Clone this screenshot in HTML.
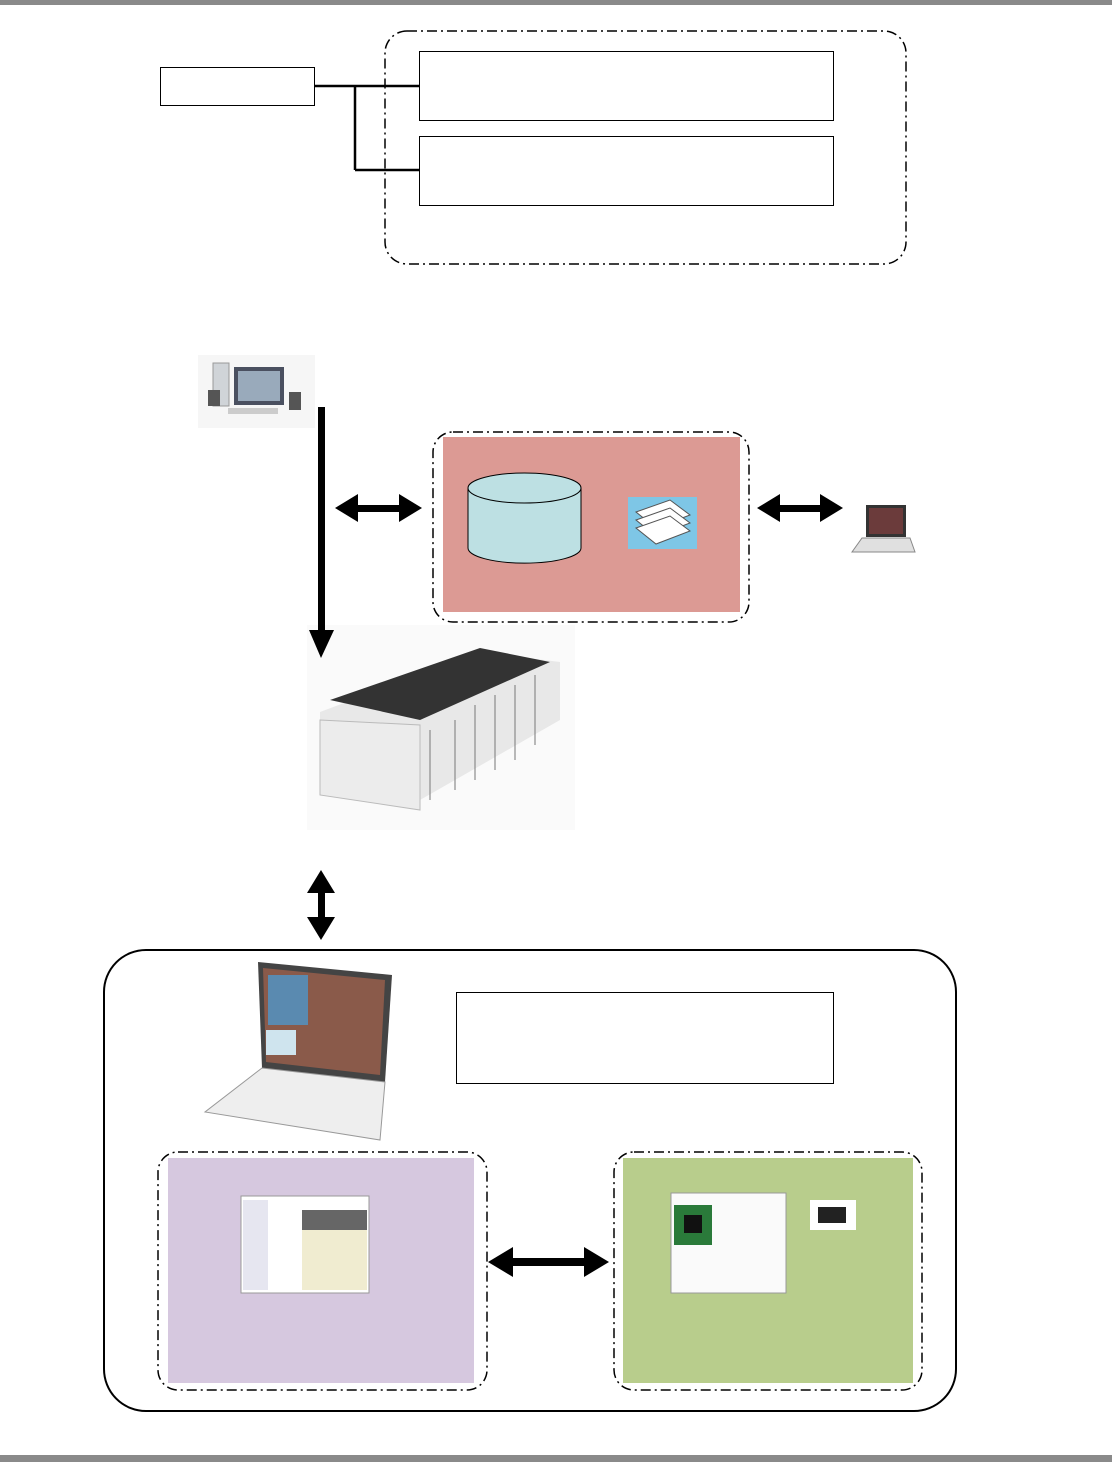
<!DOCTYPE html>
<html><head><meta charset="utf-8"><style>
html,body{margin:0;padding:0;background:#fff;}
svg{display:block;}
</style></head><body>
<svg width="1112" height="1462" viewBox="0 0 1112 1462" xmlns="http://www.w3.org/2000/svg">
<rect x="0" y="0" width="1112" height="5" fill="#8a8a8a"/>
<rect x="0" y="1455" width="1112" height="7" fill="#8a8a8a"/>

<!-- top section -->
<rect x="385" y="31" width="521" height="233" rx="22" fill="none" stroke="#000" stroke-width="1.5" stroke-dasharray="10,4,2,4"/>
<rect x="160.5" y="67.5" width="154" height="38" fill="#fff" stroke="#000"/>
<rect x="419.5" y="51.5" width="414" height="69" fill="#fff" stroke="#000"/>
<rect x="419.5" y="136.5" width="414" height="69" fill="#fff" stroke="#000"/>
<path d="M314,86 H355 M355,86 V170 M355,86 H419 M355,170 H419" stroke="#000" stroke-width="2.5" fill="none"/>

<!-- PC -->
<rect x="198" y="355" width="117" height="73" fill="#f6f6f6"/>
<rect x="213" y="363" width="16" height="43" fill="#d0d4d8" stroke="#999"/>
<rect x="234" y="367" width="50" height="38" fill="#4a5060"/>
<rect x="238" y="371" width="42" height="30" fill="#9ab"/>
<rect x="208" y="390" width="12" height="16" fill="#555"/>
<rect x="289" y="392" width="12" height="18" fill="#555"/>
<rect x="228" y="408" width="50" height="6" fill="#ccc"/>

<!-- machine -->
<rect x="307" y="625" width="268" height="205" fill="#fafafa"/>
<polygon points="320,712 480,652 560,662 560,720 420,800 320,790" fill="#e8e8e8"/>
<polygon points="330,700 480,648 550,662 420,720" fill="#333"/>
<polygon points="320,720 420,725 420,810 320,795" fill="#ececec" stroke="#bbb"/>
<g stroke="#777" fill="none">
<path d="M430,730 V800 M455,720 V790 M475,705 V780 M495,695 V770 M515,685 V760 M535,675 V745"/>
</g>

<!-- down arrow -->
<rect x="318" y="407" width="7" height="225" fill="#000"/>
<polygon points="309,630 334,630 321,658" fill="#000"/>

<!-- double arrows -->
<g fill="#000">
<rect x="350" y="505" width="57" height="7"/>
<polygon points="335,508 358,494 358,522"/><polygon points="422,508 399,494 399,522"/>
<rect x="772" y="505" width="56" height="7"/>
<polygon points="757,508 780,494 780,522"/><polygon points="843,508 820,494 820,522"/>
<rect x="318" y="885" width="7" height="40"/>
<polygon points="321,870 307,893 335,893"/><polygon points="321,940 307,917 335,917"/>
<rect x="505" y="1258" width="87" height="8"/>
<polygon points="488,1262 513,1247 513,1277"/><polygon points="609,1262 584,1247 584,1277"/>
</g>

<!-- pink box -->
<rect x="433" y="432" width="316" height="190" rx="20" fill="none" stroke="#000" stroke-width="1.5" stroke-dasharray="10,4,2,4"/>
<rect x="443" y="437" width="297" height="175" fill="#dc9a94"/>
<path d="M468,488 V548 A56,15 0 0 0 581,548 V488" fill="#bde0e3" stroke="#000"/>
<ellipse cx="524.5" cy="488" rx="56.5" ry="15" fill="#bde0e3" stroke="#000"/>
<rect x="628" y="497" width="69" height="52" fill="#7ec6e6"/>
<polygon points="636,512 670,500 690,515 656,528" fill="#fff" stroke="#555"/>
<polygon points="636,520 670,508 690,523 656,536" fill="#fff" stroke="#555"/>
<polygon points="636,528 670,516 690,531 656,544" fill="#fff" stroke="#555"/>

<!-- small laptop -->
<rect x="866" y="505" width="40" height="32" fill="#333"/>
<rect x="869" y="508" width="34" height="26" fill="#6b3b3b"/>
<polygon points="862,538 910,538 915,552 852,552" fill="#e0e0e0" stroke="#888"/>

<!-- big rounded box -->
<rect x="104" y="950" width="852" height="461" rx="42" fill="none" stroke="#000" stroke-width="2"/>
<!-- laptop -->
<polygon points="258,962 392,975 385,1082 262,1068" fill="#444"/>
<polygon points="263,968 385,980 380,1075 266,1062" fill="#8a5a4a"/>
<rect x="268" y="975" width="40" height="50" fill="#5a8ab0"/>
<rect x="266" y="1030" width="30" height="25" fill="#cfe4ee"/>
<polygon points="262,1068 385,1082 380,1140 205,1112" fill="#eeeeee" stroke="#999"/>
<rect x="456.5" y="992.5" width="377" height="91" fill="#fff" stroke="#000"/>

<!-- purple -->
<rect x="158" y="1152" width="329" height="238" rx="20" fill="none" stroke="#000" stroke-width="1.5" stroke-dasharray="10,4,2,4"/>
<rect x="168" y="1158" width="306" height="225" fill="#d6c8df"/>
<rect x="241" y="1196" width="128" height="97" fill="#fff" stroke="#999"/>
<rect x="302" y="1210" width="65" height="80" fill="#f0ecd0"/>
<rect x="302" y="1210" width="65" height="20" fill="#666"/>
<rect x="243" y="1200" width="25" height="90" fill="#e6e6f0"/>

<!-- green -->
<rect x="614" y="1152" width="308" height="238" rx="20" fill="none" stroke="#000" stroke-width="1.5" stroke-dasharray="10,4,2,4"/>
<rect x="623" y="1158" width="290" height="225" fill="#b8cd8c"/>
<rect x="671" y="1193" width="115" height="100" fill="#fafafa" stroke="#999"/>
<rect x="674" y="1205" width="38" height="40" fill="#2a7a3a"/>
<rect x="684" y="1215" width="18" height="18" fill="#111"/>
<rect x="810" y="1200" width="46" height="30" fill="#fff"/>
<rect x="818" y="1207" width="28" height="16" fill="#222"/>
</svg>
</body></html>
